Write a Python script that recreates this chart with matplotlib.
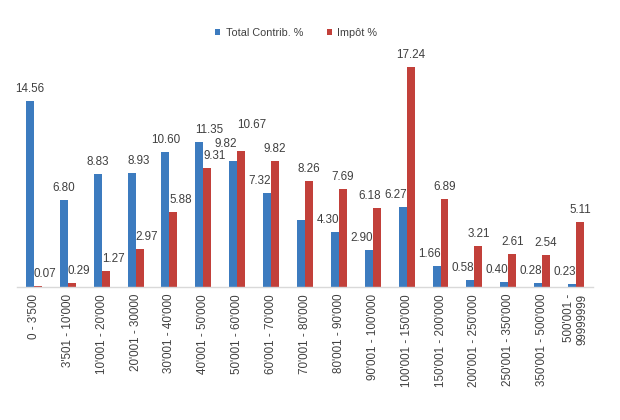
import matplotlib
matplotlib.use("Agg")
import matplotlib.pyplot as plt
import numpy as np

categories = ["0 - 3'500", "3'501 - 10'000", "10'001 - 20'000", "20'001 - 30000",
              "30'001 - 40'000", "40'001 - 50'000", "50'001 - 60'000", "60'001 - 70'000",
              "70'001 - 80'000", "80'001 - 90'000", "90'001 - 100'000", "100'001 - 150'000",
              "150'001 - 200'000", "200'001 - 250'000", "250'001 - 350'000",
              "350'001 - 500'000", "500'001 -\n99999999"]
total_contrib = [14.56, 6.80, 8.83, 8.93, 10.60, 11.35, 9.82, 7.32, 5.22, 4.30,
                 2.90, 6.27, 1.66, 0.58, 0.40, 0.28, 0.23]
impot = [0.07, 0.29, 1.27, 2.97, 5.88, 9.31, 10.67, 9.82, 8.26, 7.69,
         6.18, 17.24, 6.89, 3.21, 2.61, 2.54, 5.11]
# data labels shown in the reference (one blue label is absent there)
total_labels = ["14.56", "6.80", "8.83", "8.93", "10.60", "11.35", "9.82", "7.32", "",
                "4.30", "2.90", "6.27", "1.66", "0.58", "0.40", "0.28", "0.23"]
impot_labels = [f"{v:.2f}" for v in impot]
series_names = ["Total Contrib. %", "Impôt %"]

# label placement style (c = centred on bar, l = starts at bar's left edge,
# r = ends at bar's right edge), as laid out in the reference
total_align = ['c', 'c', 'c', 'l', 'c', 'l', 'r', 'r', 'r', 'r', 'r', 'r', 'r', 'r', 'r', 'r', 'r']
impot_align = ['l', 'l', 'l', 'l', 'l', 'l', 'l', 'c', 'c', 'c', 'r', 'c', 'c', 'c', 'c', 'c', 'c']
total_lift = {6: 5}
impot_lift = {6: 14}

BLUE = "#3C7BBF"
RED = "#C2403A"
TXT = "#404040"

plt.rcParams['font.family'] = ['Liberation Sans', 'DejaVu Sans']

fig = plt.figure(figsize=(6.2, 4.2), dpi=100)
ax = fig.add_axes([0.0274, 0.3167, 0.929, 0.6086])

x = np.arange(len(categories))
w = 0.235
b1 = ax.bar(x - w / 2, total_contrib, w, color=BLUE, label=series_names[0])
b2 = ax.bar(x + w / 2, impot, w, color=RED, label=series_names[1])

ax.set_xlim(-0.5, len(categories) - 0.5)
ax.set_ylim(0, 20)

fs = 8.4


def put(label, xc, val, align, lift):
    if not label:
        return
    if align == 'c':
        xa, ha = xc, 'center'
    elif align == 'l':
        xa, ha = xc - w / 2, 'left'
    else:
        xa, ha = xc + w / 2, 'right'
    ax.annotate(label, (xa, val), xytext=(0, 6 + lift), textcoords='offset pixels',
                ha=ha, va='bottom', fontsize=fs, color=TXT, annotation_clip=False)


for i in range(len(categories)):
    put(total_labels[i], x[i] - w / 2, total_contrib[i], total_align[i], total_lift.get(i, 0))
    put(impot_labels[i], x[i] + w / 2, impot[i], impot_align[i], impot_lift.get(i, 0))

ax.set_xticks(x)
ax.set_xticklabels(categories, rotation=90, fontsize=fs, color=TXT, ma='right')
ax.tick_params(axis='x', length=0, pad=5)
ax.set_yticks([])
for s in ['top', 'right', 'left']:
    ax.spines[s].set_visible(False)
ax.spines['bottom'].set_color('#D9D9D9')
ax.spines['bottom'].set_linewidth(1.0)

fig.legend(handles=[b1, b2], labels=series_names, loc='center',
           bbox_to_anchor=(0.478, 0.921), ncol=2, frameon=False,
           fontsize=7.8, handlelength=0.45, handleheight=0.45,
           handletextpad=0.5, columnspacing=2.2, labelcolor=TXT)

fig.savefig("out.png", dpi=100, facecolor='white')
